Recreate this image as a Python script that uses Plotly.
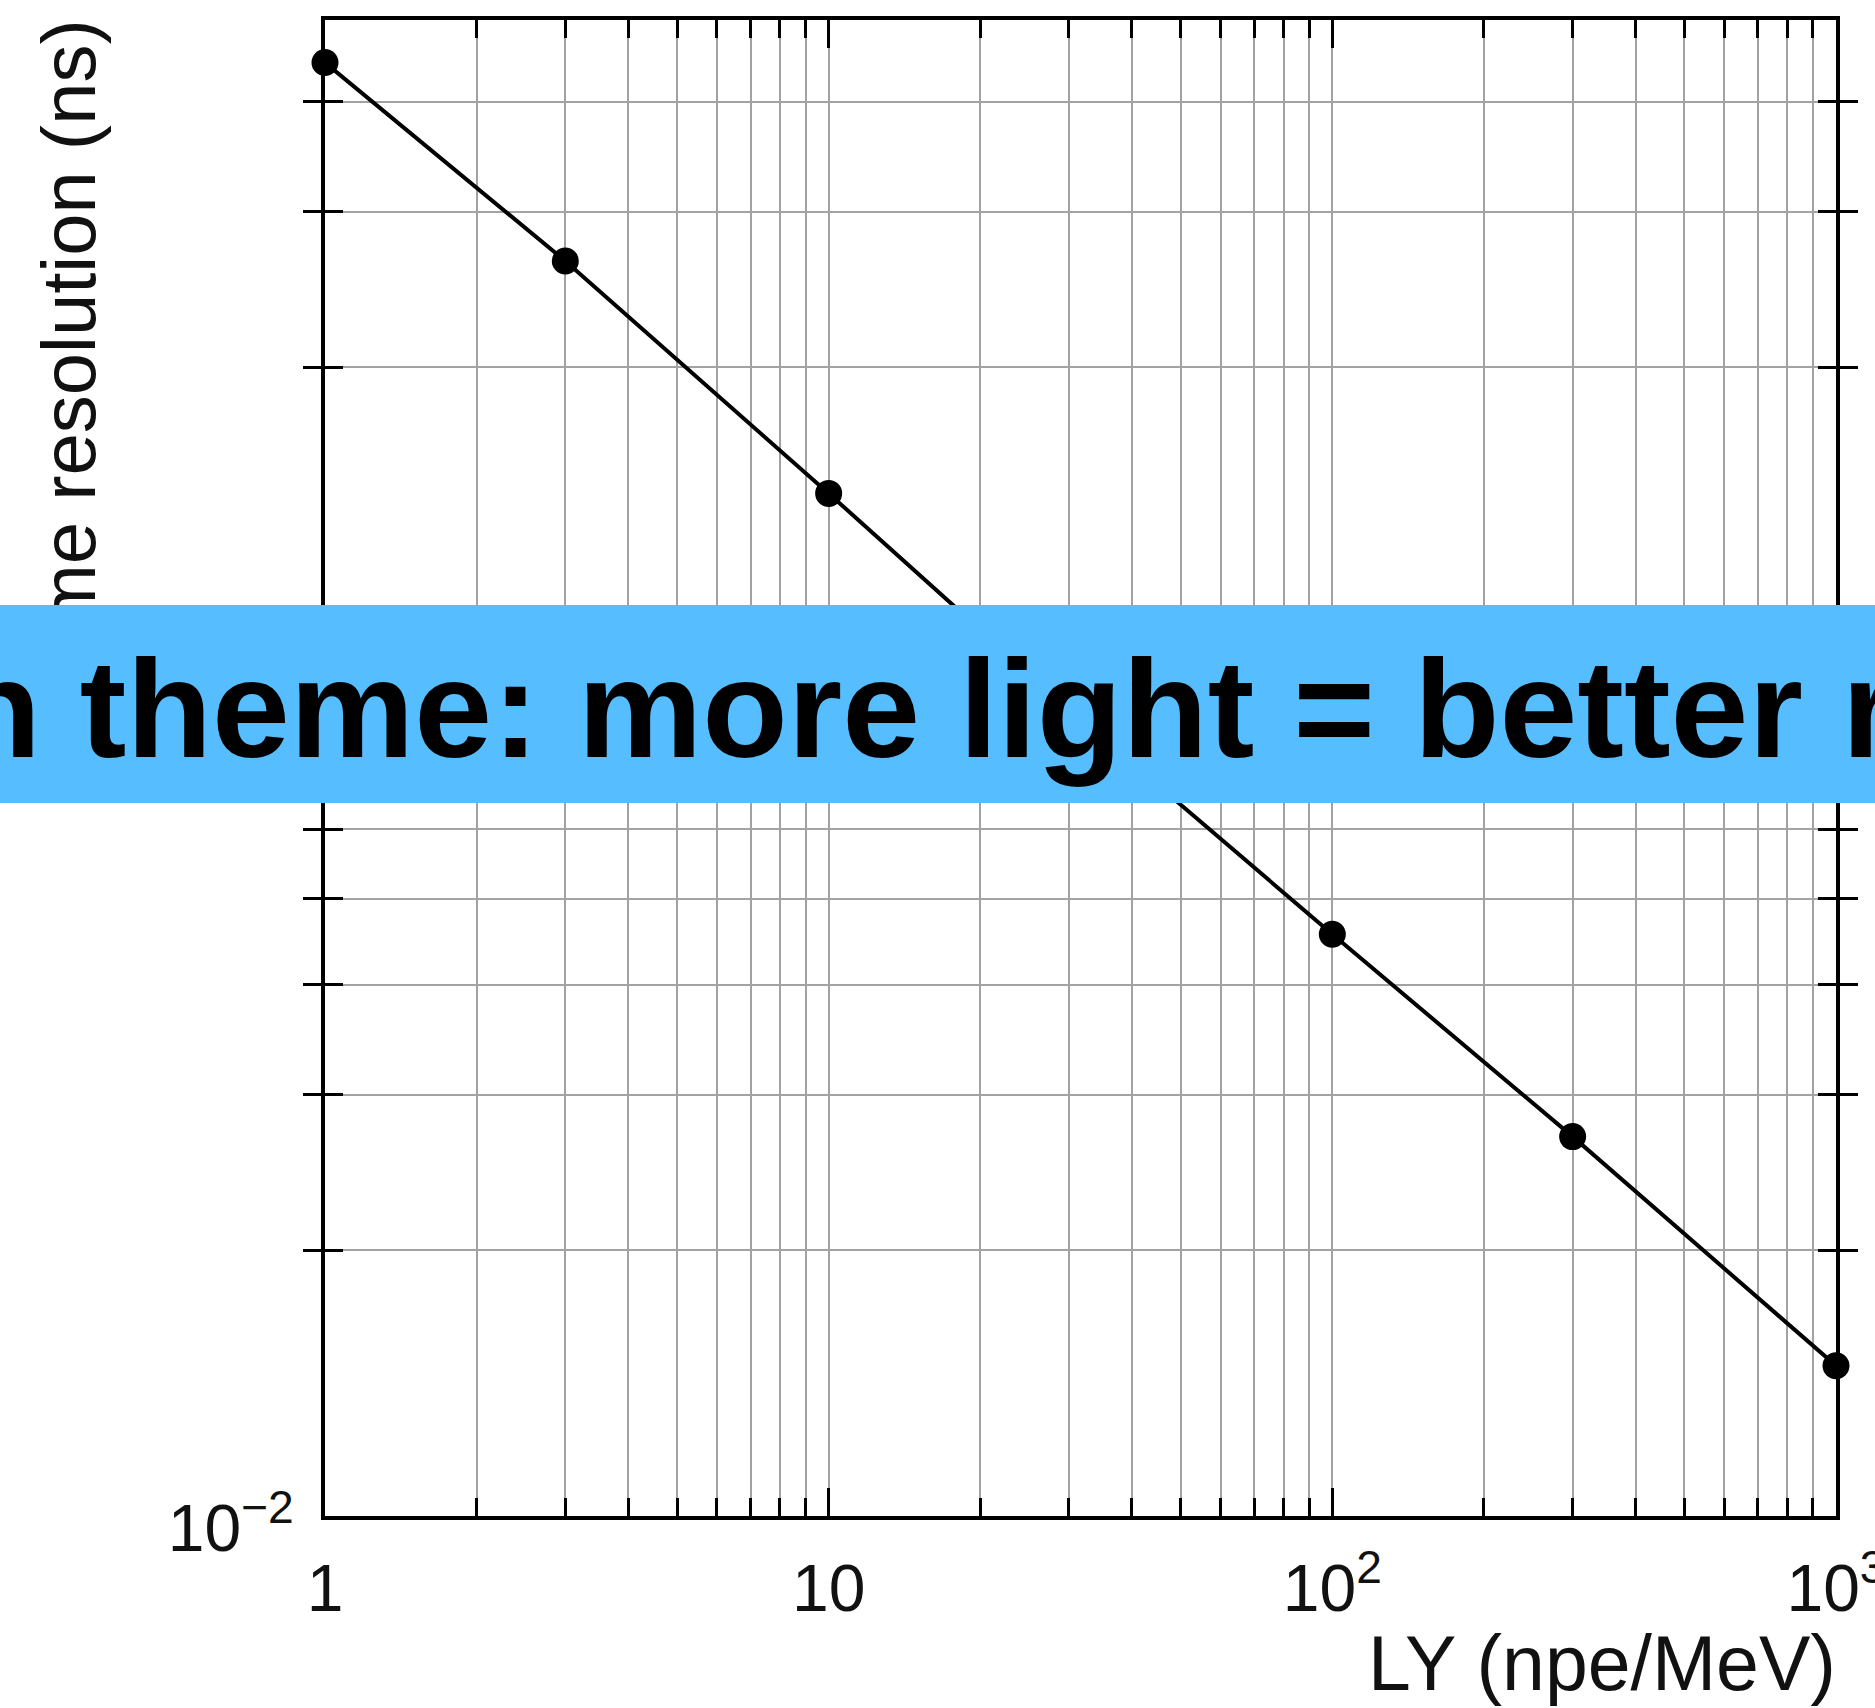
import plotly.graph_objects as go

# Light yield (npe/MeV) and the corresponding time resolution (ns)
light_yield = [1, 3, 10, 30, 100, 300, 1000]
time_resolution = [0.443, 0.264, 0.144, 0.082, 0.0456, 0.0269, 0.0148]

# Log-axis grid positions and their labels
x_grid_vals = [m * 10 ** e for e in range(3) for m in range(1, 10)] + [1000]
x_grid_text = ["1" if v == 1 else "10" if v == 10 else
               "10<sup>2</sup>" if v == 100 else
               "10<sup>3</sup>" if v == 1000 else "" for v in x_grid_vals]
y_grid_vals = [m * 0.01 for m in range(1, 10)] + [0.1, 0.2, 0.3, 0.4]
y_grid_text = ["10<sup>−2</sup>" if abs(v - 0.01) < 1e-9 else
               "10<sup>−1</sup>" if abs(v - 0.1) < 1e-9 else "" for v in y_grid_vals]
x_major_vals = [10, 100]

x_title = "LY (npe/MeV)"
y_title = "Time resolution (ns)"
banner_text = "Main theme: more light = better resolution"

W, H = 1875, 1708
L, R, T, B = 325, 39, 20, 192
PW, PH = W - L - R, H - T - B


def px(xp):
    return (xp - L) / PW


def py(yp):
    return (H - B - yp) / PH


FONT = "Liberation Sans, Arial, Helvetica, sans-serif"

fig = go.Figure()
fig.add_trace(go.Scatter(
    x=light_yield, y=time_resolution, mode="lines+markers",
    line=dict(color="black", width=4),
    marker=dict(color="black", size=27),
    cliponaxis=False, showlegend=False,
))
# empty trace carrying the longer decade ticks
fig.add_trace(go.Scatter(x=[1], y=[0.1], xaxis="x2", mode="markers",
                         marker=dict(opacity=0), showlegend=False, hoverinfo="skip"))

axis_common = dict(
    type="log", showline=True, linecolor="black", linewidth=4,
    mirror="allticks", ticks="inside", ticklen=18, tickwidth=2.5,
    tickcolor="black", showgrid=True, gridcolor="#a2a2a2", gridwidth=2,
    zeroline=False, tickfont=dict(family=FONT, size=66, color="#111"),
    tickmode="array", ticklabeloverflow="allow", automargin=False,
)

fig.update_layout(
    width=W, height=H, autosize=False,
    margin=dict(l=L, r=R, t=T, b=B, pad=0, autoexpand=False),
    paper_bgcolor="white", plot_bgcolor="white",
    xaxis=dict(axis_common, range=[0, 3], tickvals=x_grid_vals,
               ticktext=x_grid_text, ticklabelstandoff=12),
    xaxis2=dict(type="log", range=[0, 3], overlaying="x", anchor="y",
                side="bottom", tickmode="array", tickvals=x_major_vals,
                ticks="inside", ticklen=28, tickwidth=2.5, tickcolor="black",
                mirror="allticks", showline=False, showgrid=False,
                showticklabels=False, zeroline=False, automargin=False),
    yaxis=dict(axis_common, range=[-2, -0.3054], tickvals=y_grid_vals,
               ticktext=y_grid_text, ticklabelstandoff=14, ticklabelshift=12),
)

annotations = [
    # x-axis title, right-aligned under the plot
    dict(text=x_title, xref="paper", yref="paper", x=px(1837.5), y=py(1618),
         xanchor="right", yanchor="top", showarrow=False,
         font=dict(family=FONT, size=77, color="#111")),
    # y-axis title
    dict(text=y_title, xref="paper", yref="paper", x=px(68), y=py(354),
         xanchor="center", yanchor="middle", textangle=-90, showarrow=False,
         font=dict(family=FONT, size=76, color="#111")),
    # banner background strip
    dict(text=" ", xref="paper", yref="paper", x=px(W / 2), y=py(704),
         xanchor="center", yanchor="middle", width=2400, height=198,
         bgcolor="#56BEFE", borderpad=0, borderwidth=0, showarrow=False,
         font=dict(size=10)),
    # banner caption
    dict(text="<b>" + banner_text + "</b>", xref="paper", yref="paper",
         x=px(-280), y=py(708.5), xanchor="left", yanchor="middle",
         showarrow=False, font=dict(family=FONT, size=140, color="black")),
]
fig.update_layout(annotations=annotations)

fig.write_html("out.html")
